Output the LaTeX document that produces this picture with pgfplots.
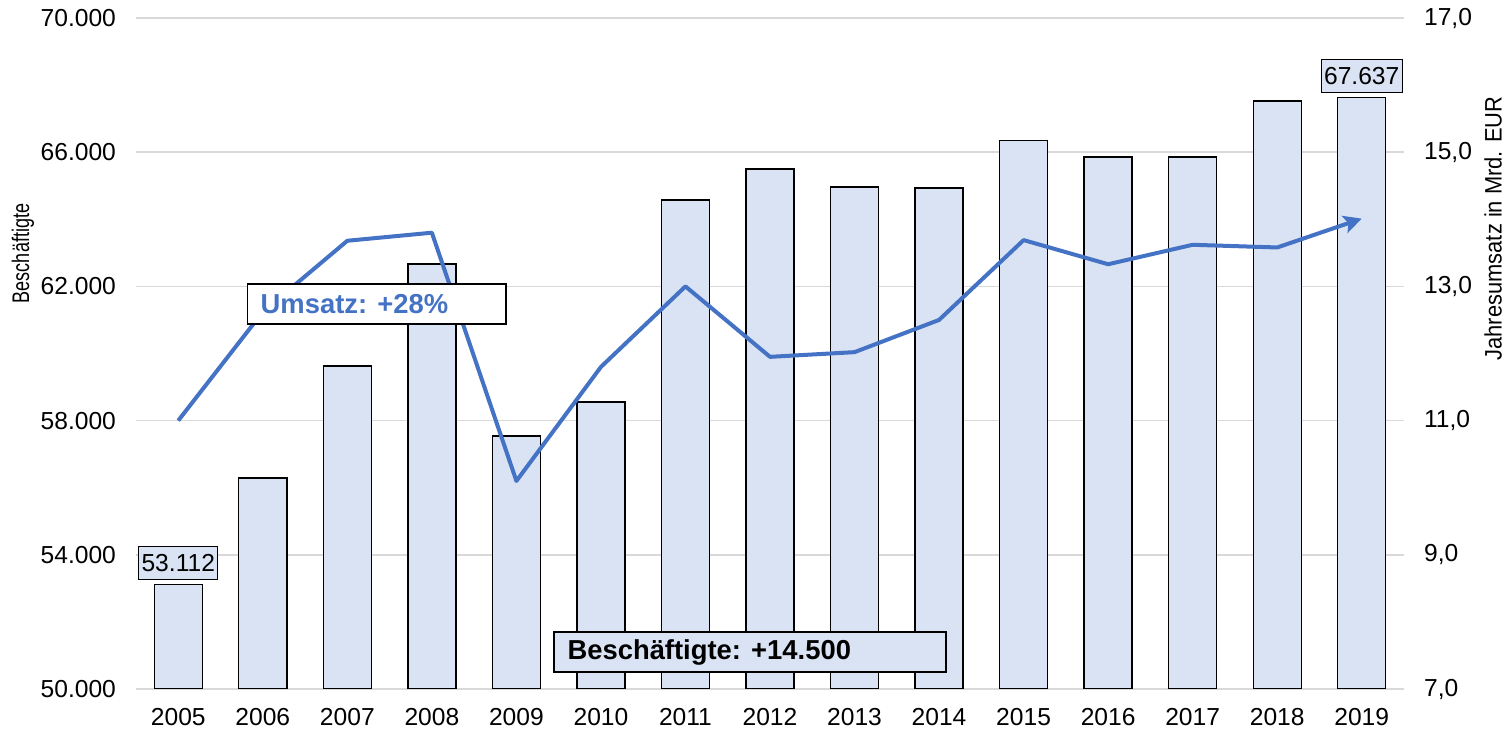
\documentclass[border=0pt]{standalone}
\usepackage{fontspec}
\setmainfont{Liberation Sans}
\usepackage{graphicx}
\usepackage{pgfplots}
\pgfplotsset{compat=1.18}
\usetikzlibrary{arrows.meta}
\definecolor{barfill}{RGB}{218,227,243}
\definecolor{lineblue}{RGB}{68,114,196}
\definecolor{gridgray}{RGB}{217,217,217}
\begin{document}
\begin{tikzpicture}
\useasboundingbox (-68pt,-21.5pt) rectangle (686.5pt,344.5pt);
\begin{axis}[
  name=ax1,
  at={(0,0)}, anchor=south west,
  scale only axis, width=634pt, height=335.5pt,
  xmin=-0.5, xmax=14.5, ymin=50000, ymax=70000,
  xtick={0,...,14},
  xticklabels={2005,2006,2007,2008,2009,2010,2011,2012,2013,2014,2015,2016,2017,2018,2019},
  ytick={50000,54000,58000,62000,66000,70000},
  scaled y ticks=false,
  axis line style={draw=none},
  major tick length=0pt,
  ymajorgrids, grid style={color=gridgray, line width=0.8pt},
  tick label style={font=\fontsize{12.3}{14}\selectfont, color=black},
  yticklabel style={xshift=-6.5pt},
  xticklabel style={yshift=-6pt},
  /pgf/number format/.cd, 1000 sep={.}, assume math mode=true,
]
\addplot[ybar, bar width=24pt, fill=barfill, draw=black, line width=0.7pt] coordinates {
  (0,53112) (1,56290) (2,59630) (3,62670) (4,57540) (5,58550) (6,64575)
  (7,65500) (8,64960) (9,64930) (10,66340) (11,65855) (12,65855) (13,67530) (14,67637)
};
\addplot[draw=none, mark=none, point meta=y, nodes near coords,
  every node near coord/.style={anchor=south, yshift=2.2pt, fill=barfill, draw=black,
    line width=0.6pt, inner xsep=1.4pt, inner ysep=0pt, minimum height=16.5pt,
    font=\fontsize{12.3}{14}\selectfont}]
  coordinates {(0,53112) (14,67637)};
\coordinate (ub1) at (axis cs:0.816,60879);
\coordinate (ub2) at (axis cs:3.878,62071);
\coordinate (ut) at (axis cs:0.97,61475);
\coordinate (bb1) at (axis cs:4.446,50507);
\coordinate (bb2) at (axis cs:9.081,51699);
\coordinate (bt) at (axis cs:4.6,51103);
\end{axis}
\begin{axis}[
  at={(0,0)}, anchor=south west,
  scale only axis, width=634pt, height=335.5pt,
  xmin=-0.5, xmax=14.5, ymin=7, ymax=17,
  axis x line=none,
  axis y line*=right,
  axis line style={draw=none},
  ytick={7,9,11,13,15,17},
  major tick length=0pt,
  tick label style={font=\fontsize{12.3}{14}\selectfont, color=black},
  yticklabel style={xshift=6.5pt},
  /pgf/number format/.cd, fixed, fixed zerofill, precision=1, use comma, assume math mode=true,
]
\addplot[color=lineblue, line width=2pt, line join=round, mark=none,
  -{Stealth[length=9pt, width=9pt, inset=2pt]}] coordinates {
  (0,11.0) (1,12.62) (2,13.68) (3,13.80) (4,10.10) (5,11.80) (6,13.0)
  (7,11.95) (8,12.02) (9,12.50) (10,13.69) (11,13.33) (12,13.62) (13,13.58) (14,14.01)
};
\end{axis}
\draw[fill=white, draw=black, line width=0.7pt] (ub1) rectangle (ub2);
\node[anchor=west, inner sep=0pt, text=lineblue, font=\fontsize{13.7}{16}\selectfont\bfseries] at (ut) {Umsatz: +28\%};
\draw[fill=barfill, draw=black, line width=0.7pt] (bb1) rectangle (bb2);
\node[anchor=west, inner sep=0pt, text=black, font=\fontsize{13.7}{16}\selectfont\bfseries] at (bt) {Beschäftigte: +14.500};
\node[rotate=90, inner sep=0pt] at (-56.5pt,217.75pt) {\scalebox{0.75}[1]{\fontsize{12}{14}\selectfont Beschäftigte}};
\node[rotate=90, inner sep=0pt] at (678.5pt,230.25pt) {\scalebox{0.92}[1]{\fontsize{11.9}{13}\selectfont Jahresumsatz in Mrd. EUR}};
\end{tikzpicture}
\end{document}
